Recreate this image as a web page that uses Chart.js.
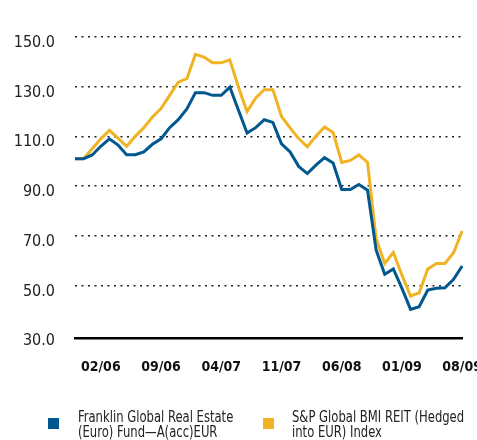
<!DOCTYPE html>
<html>
<head>
<meta charset="utf-8">
<script src="https://cdn.jsdelivr.net/npm/chart.js@4.4.0/dist/chart.umd.min.js"></script>
<style>
  body { margin: 0; background: #fff; overflow: hidden; }
  #wrap { position: relative; width: 477px; height: 440px; overflow: hidden; }
  #fundChart { position: absolute; left: 0; top: 0; }
  .sw { position: absolute; width: 11px; height: 11px; top: 418px; }
  .txt { position: absolute; top: 410px; font: 15px "DejaVu Sans Condensed", sans-serif; line-height: 15px; color: #222;
         white-space: nowrap; transform: scaleX(0.86); transform-origin: 0 0; }
</style>
</head>
<body>
<div id="wrap">
  <canvas id="fundChart" width="482" height="440"></canvas>
  <div class="sw" style="left:48px; background:#00588e;"></div>
  <div class="txt" style="left:78px;">Franklin Global Real Estate<br>(Euro) Fund—A(acc)EUR</div>
  <div class="sw" style="left:263px; background:#f0b323;"></div>
  <div class="txt" style="left:292px;">S&amp;P Global BMI REIT (Hedged<br>into EUR) Index</div>
</div>
<script>
var months = ['11/05', '12/05',
  '01/06', '02/06', '03/06', '04/06', '05/06', '06/06', '07/06', '08/06', '09/06', '10/06', '11/06', '12/06',
  '01/07', '02/07', '03/07', '04/07', '05/07', '06/07', '07/07', '08/07', '09/07', '10/07', '11/07', '12/07',
  '01/08', '02/08', '03/08', '04/08', '05/08', '06/08', '07/08', '08/08', '09/08', '10/08', '11/08', '12/08',
  '01/09', '02/09', '03/09', '04/09', '05/09', '06/09', '07/09', '08/09'];

var tickLabels = ['02/06', '09/06', '04/07', '11/07', '06/08', '01/09', '08/09'];
var yTicks = [30, 50, 70, 90, 110, 130, 150];

var fundValues = [101, 101, 102.5, 106, 109, 106.5, 102.6, 102.6, 103.7, 106.8, 109, 113.5,
  116.7, 121, 127.6, 127.6, 126.5, 126.5, 129.8, 120.5, 111.3, 113.5, 116.7, 115.6,
  107, 103.7, 97.9, 95, 98.4, 101.4, 99.3, 88.6, 88.6, 90.6, 88.3, 64.2,
  54.5, 56.6, 48.8, 40.3, 41.4, 48.1, 48.8, 49, 52.4, 57.8];

var indexValues = [101, 101, 105, 109, 112.4, 109.3, 106, 110, 113.5, 117.8, 121.2, 126.5,
  131.8, 133.2, 143, 141.9, 139.6, 139.6, 140.8, 129.8, 120, 125.5, 128.8, 128.8,
  118, 113.4, 109.1, 105.8, 110, 113.8, 111.6, 99.5, 100.3, 102.5, 99.5, 68.8,
  58.8, 63.2, 54.1, 45.7, 47, 56.6, 58.8, 58.8, 63.1, 71.9];

var cond = '"DejaVu Sans Condensed", sans-serif';

var fundChart = new Chart(document.getElementById('fundChart').getContext('2d'), {
  type: 'line',
  data: {
    labels: months,
    datasets: [{
      label: 'Franklin Global Real Estate (Euro) Fund—A(acc)EUR',
      data: fundValues,
      borderColor: '#00588e',
      borderWidth: 3,
      pointRadius: 0,
      fill: false
    }, {
      label: 'S&P Global BMI REIT (Hedged into EUR) Index',
      data: indexValues,
      borderColor: '#f0b323',
      borderWidth: 3,
      pointRadius: 0,
      fill: false
    }]
  },
  options: {
    responsive: false,
    animation: false,
    layout: { padding: { top: 37, right: 18, left: 0, bottom: 0 } },
    plugins: { legend: { display: false }, tooltip: { enabled: false } },
    scales: {
      x: {
        // tick marks hidden, tickLength just pushes the labels down
        grid: { display: false, drawTicks: true, tickLength: 21 },
        border: { display: true, color: '#000', width: 2.5 },
        ticks: {
          autoSkip: false,
          maxRotation: 0,
          padding: 0,
          color: '#111',
          font: { family: cond, size: 14, weight: 'bold' },
          callback: function(value, index) {
            var lbl = months[index];
            return tickLabels.indexOf(lbl) >= 0 ? lbl : '';
          }
        },
        afterFit: function(scale) { scale.height = 102; }
      },
      y: {
        min: 28.8,
        max: 150,
        afterBuildTicks: function(scale) {
          scale.ticks = yTicks.map(function(v) { return { value: v }; });
        },
        afterFit: function(scale) { scale.width = 75; },
        grid: {
          drawTicks: false,
          lineWidth: 1.5,
          color: function(ctx) {
            return ctx.tick && ctx.tick.value === 30 ? 'rgba(0,0,0,0)' : '#222';
          }
        },
        border: { display: false, dash: [2, 4.5] },
        ticks: {
          padding: 20,
          labelOffset: 6,
          color: '#222',
          font: { family: cond, size: 16 },
          callback: function(v) { return Number(v).toFixed(1); }
        }
      }
    }
  }
});
</script>
</body>
</html>
